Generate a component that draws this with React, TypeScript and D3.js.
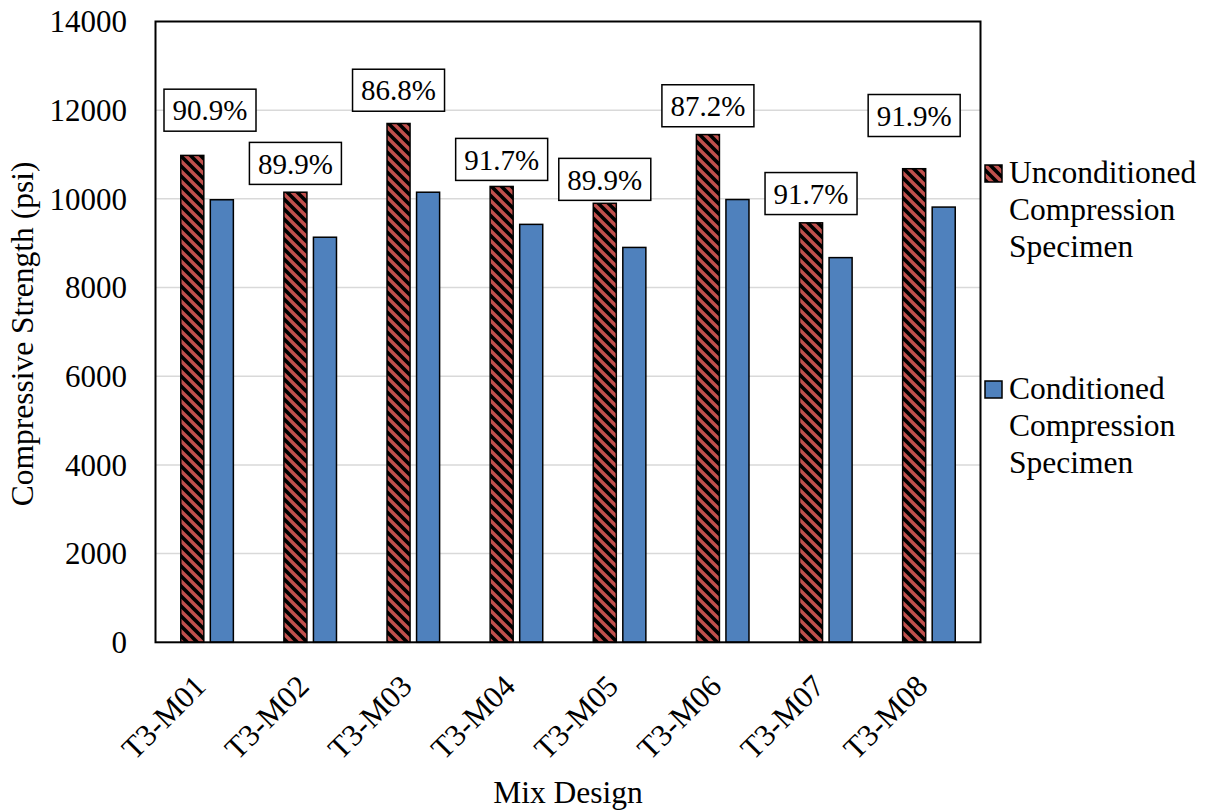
import React from "react";
import * as d3 from "d3";

const categories = ["T3-M01", "T3-M02", "T3-M03", "T3-M04", "T3-M05", "T3-M06", "T3-M07", "T3-M08"];
const unconditioned = [10980, 10150, 11700, 10280, 9900, 11450, 9460, 10680];
const conditioned = [9980, 9135, 10150, 9425, 8905, 9985, 8675, 9815];
const ratioLabels = ["90.9%", "89.9%", "86.8%", "91.7%", "89.9%", "87.2%", "91.7%", "91.9%"];
// vertical anchor (in psi) of each ratio label box centre
const ratioLabelAt = [12000, 10800, 12450, 10890, 10440, 12100, 10120, 11880];
const yTicks = [0, 2000, 4000, 6000, 8000, 10000, 12000, 14000];
const seriesNames = ["Unconditioned Compression Specimen", "Conditioned Compression Specimen"];
const seriesKeys = ["u", "c"];

const W = 1209;
const H = 812;
const FS = 31.5;
const FS_TICK = 31;
const FS_LAB = 29;
const RED = "#C0504D";
const BLUE = "#4F81BD";

export default function App() {
  const left = 155.5, right = 980.5, top = 21.5, bottom = 642.3;
  const y = d3.scaleLinear().domain([0, 14000]).range([bottom, top]);
  const x0 = d3.scaleBand<string>().domain(categories).range([left, right]).paddingInner(0).paddingOuter(0);
  const bw = x0.bandwidth();
  const groupW = bw * 0.51;
  const x1 = d3
    .scaleBand<string>()
    .domain(seriesKeys)
    .range([(bw - groupW) / 2, (bw + groupW) / 2])
    .paddingInner(0.22)
    .paddingOuter(0);
  const barW = x1.bandwidth();

  const legendX = 985;
  const legendTops = [165, 381];
  const lineGap = 37;
  const txt = { fontFamily: "Liberation Serif" };
  const boxW = 92, boxH = 42;

  return (
    <svg
      width={W}
      height={H}
      style={{ position: "absolute", left: 0, top: 0, display: "block", background: "#fff" }}
    >
      <style>{`.t{font-family:"Liberation Serif","Times New Roman",Tinos,serif !important;}`}</style>
      <defs>
        <pattern id="wdiag" patternUnits="userSpaceOnUse" width={10} height={10}>
          <rect width={10} height={10} fill="#000" />
          <path d="M-2,-2 L12,12 M-2,8 L2,12 M8,-2 L12,2" stroke={RED} strokeWidth={3.4} />
        </pattern>
      </defs>
      <rect x={0} y={0} width={W} height={H} fill="#fff" />

      {/* gridlines */}
      {yTicks.filter((t) => t > 0 && t < 14000).map((t) => (
        <line key={t} x1={left} x2={right} y1={y(t)} y2={y(t)} stroke="#d9d9d9" strokeWidth={1.5} />
      ))}

      {/* bars */}
      {categories.map((c, i) => {
        const gx = x0(c)!;
        const vals = [unconditioned[i], conditioned[i]];
        return (
          <g key={c}>
            {seriesKeys.map((k, j) => (
              <rect
                key={k}
                x={gx + x1(k)!}
                y={y(vals[j])}
                width={barW}
                height={bottom - y(vals[j])}
                fill={j === 0 ? "url(#wdiag)" : BLUE}
                stroke="#000"
                strokeWidth={1.5}
              />
            ))}
          </g>
        );
      })}

      {/* ratio labels (kept inside the plot area) */}
      {categories.map((c, i) => {
        const barCx = x0(c)! + x1("u")! + barW / 2;
        const bx = Math.max(barCx - boxW / 2, left + 8.5);
        const cx = bx + boxW / 2;
        const cy = y(ratioLabelAt[i]);
        return (
          <g key={c + "lab"}>
            <rect x={bx} y={cy - boxH / 2} width={boxW} height={boxH} fill="#fff" stroke="#000" strokeWidth={1.5} />
            <text className="t" x={cx} y={cy} dy="0.35em" textAnchor="middle" fontSize={FS_LAB} fill="#000" style={txt}>
              {ratioLabels[i]}
            </text>
          </g>
        );
      })}

      {/* plot frame */}
      <rect x={left} y={top} width={right - left} height={bottom - top} fill="none" stroke="#000" strokeWidth={2} />

      {/* y ticks */}
      {yTicks.map((t) => (
        <text className="t" key={"yt" + t} x={127} y={y(t)} dy="0.35em" textAnchor="end" fontSize={FS_TICK} fill="#000" style={txt}>
          {t}
        </text>
      ))}

      {/* x ticks */}
      {categories.map((c) => {
        const cx = x0(c)! + bw / 2;
        return (
          <text
            className="t"
            key={"xt" + c}
            transform={`translate(${cx + 0.5},${688}) rotate(-45)`}
            textAnchor="end"
            fontSize={FS_TICK}
            fill="#000"
            style={txt}
          >
            {c}
          </text>
        );
      })}

      {/* axis titles */}
      <text
        className="t"
        transform={`translate(33,${(top + bottom) / 2 + 2}) rotate(-90)`}
        textAnchor="middle"
        fontSize={FS}
        fill="#000"
        style={txt}
      >
        Compressive Strength (psi)
      </text>
      <text className="t" x={(left + right) / 2} y={803} textAnchor="middle" fontSize={FS} fill="#000" style={txt}>
        Mix Design
      </text>

      {/* legend */}
      {seriesNames.map((name, i) => {
        const words = name.split(" ");
        const ty = legendTops[i];
        return (
          <g key={name}>
            <rect
              x={legendX}
              y={ty}
              width={17}
              height={17}
              fill={i === 0 ? "url(#wdiag)" : BLUE}
              stroke="#000"
              strokeWidth={1.5}
            />
            {words.map((w, k) => (
              <text className="t" key={w} x={legendX + 24} y={ty + 18 + k * lineGap} fontSize={FS} fill="#000" style={txt}>
                {w}
              </text>
            ))}
          </g>
        );
      })}
    </svg>
  );
}
